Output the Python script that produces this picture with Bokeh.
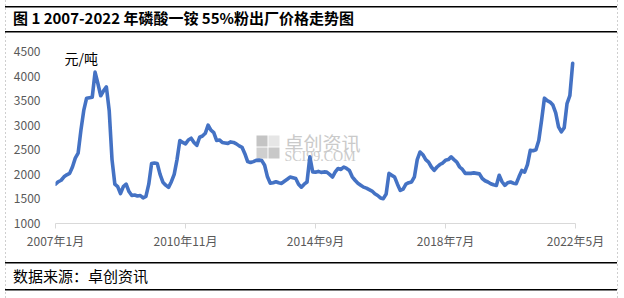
from bokeh.plotting import figure
from bokeh.models import Range1d, FixedTicker, Label, BoxAnnotation, Div
from bokeh.layouts import column
from bokeh.embed import file_html
from bokeh.resources import INLINE

# Monthly ex-works price of 55% MAP powder, 2007-01 .. 2022-04 (yuan/ton)
price = [
    1800, 1850, 1880, 1950, 1990, 2020, 2150, 2330, 2430, 2900,
    3300, 3550, 3560, 3570, 4080, 3850, 3600, 3700, 3780, 3300,
    2300, 1800, 1750, 1610, 1750, 1800, 1650, 1570, 1580, 1560,
    1570, 1520, 1550, 1800, 2220, 2230, 2220, 2000, 1840, 1780,
    1735, 1850, 2000, 2300, 2690, 2650, 2620, 2700, 2735, 2650,
    2590, 2755, 2780, 2835, 3000, 2900, 2850, 2690, 2700, 2650,
    2640, 2630, 2660, 2650, 2620, 2580, 2550, 2420, 2260, 2240,
    2260, 2285, 2290, 2280, 2185, 1950, 1820, 1830, 1850, 1830,
    1815, 1860, 1900, 1945, 1930, 1915, 1800, 1740, 1800, 1845,
    2355, 2050, 2045, 2060, 2040, 2050, 2045, 2000, 1945, 2050,
    2120, 2100, 2150, 2120, 2080, 1950, 1880, 1820, 1780, 1740,
    1720, 1690, 1660, 1605, 1570, 1520, 1505, 1600, 2020, 1980,
    1945, 1800, 1673, 1700, 1800, 1830, 1845, 1950, 2300, 2455,
    2400, 2300, 2250, 2150, 2080, 2150, 2200, 2230, 2285, 2300,
    2355, 2300, 2250, 2150, 2100, 2020, 2020, 2020, 2030, 2020,
    2010, 1915, 1870, 1845, 1810, 1790, 1775, 1980, 1850, 1775,
    1830, 1845, 1820, 1810, 1950, 2080, 2045, 2200, 2490, 2480,
    2500, 2690, 3100, 3550, 3500, 3470, 3410, 3250, 2965, 2865,
    2950, 3440, 3600, 4260,
]
month_index = list(range(len(price)))          # 0 = 2007年1月
tick_months = [0, 46, 92, 138, 184]
tick_labels = ["2007年1月", "2010年11月", "2014年9月", "2018年7月", "2022年5月"]
y_ticks = [1000, 1500, 2000, 2500, 3000, 3500, 4000, 4500]

title_text = "图 1 2007-2022 年磷酸一铵 55%粉出厂价格走势图"
unit_text = "元/吨"
source_text = "数据来源：卓创资讯"

FONT = "Noto Sans CJK SC"
W, H = 624, 298
TOP_H, BOT_H = 32, 36
PH = H - TOP_H - BOT_H                     # figure height (canvas y 32..262)
FL, FR, FT, FB = 55, 575, 51, 223          # frame edges on the page

p = figure(width=W, height=PH, output_backend="svg", toolbar_location=None,
           x_range=Range1d(0, 184), y_range=Range1d(1000, 4500),
           min_border_left=FL, min_border_right=W - FR,
           min_border_top=FT - TOP_H, min_border_bottom=TOP_H + PH - FB,
           margin=0)
p.outline_line_color = None
p.background_fill_color = None
p.border_fill_color = None
p.xgrid.grid_line_color = None
p.ygrid.grid_line_color = None

xa = p.xaxis[0]
xa.ticker = FixedTicker(ticks=tick_months)
xa.major_label_overrides = {t: l for t, l in zip(tick_months, tick_labels)}
xa.axis_line_color = "#d9d9d9"
xa.major_tick_line_color = "#d9d9d9"
xa.major_tick_in = 0
xa.major_tick_out = 5
xa.minor_tick_line_color = None
xa.major_label_text_font = FONT
xa.major_label_text_font_size = "12px"
xa.major_label_text_color = "#595959"
xa.major_label_standoff = 3

ya = p.yaxis[0]
ya.ticker = FixedTicker(ticks=y_ticks)
ya.axis_line_color = None
ya.major_tick_line_color = None
ya.minor_tick_line_color = None
ya.major_label_text_font = FONT
ya.major_label_text_font_size = "12px"
ya.major_label_text_color = "#595959"
ya.major_label_standoff = 9

p.line(month_index, price, line_color="#4472C4", line_width=3.6,
       line_join="round", line_cap="round")


def sx(cx):
    return cx - FL


def sy(cy):
    return FB - cy


def box(l, r, t, b, **kw):
    p.add_layout(BoxAnnotation(left=sx(l), right=sx(r), top=sy(t), bottom=sy(b),
                               left_units="screen", right_units="screen",
                               top_units="screen", bottom_units="screen",
                               level="underlay", **kw))


# watermark (logo + text)
box(256, 267, 135, 146, fill_color="#c4c4c4", fill_alpha=1, line_color=None)
box(268, 279, 135, 146, fill_color="#e6e6e6", fill_alpha=1, line_color=None)
box(256, 267, 147, 158, fill_color="#cfcfcf", fill_alpha=1, line_color=None)
box(268, 279, 147, 158, fill_color="#c8c8c8", fill_alpha=1, line_color=None)
p.add_layout(Label(x=sx(284), y=sy(142), x_units="screen", y_units="screen",
                   text="卓创资讯", text_font=FONT, text_font_size="19px",
                   text_color="#cacaca", text_baseline="middle", level="underlay"))
p.add_layout(Label(x=sx(284), y=sy(156), x_units="screen", y_units="screen",
                   text="SCI99.COM", text_font="Liberation Serif", text_font_size="14px",
                   text_color="#cacaca", text_baseline="middle", level="underlay"))

p.add_layout(Label(x=sx(64), y=sy(57), x_units="screen", y_units="screen",
                   text=unit_text, text_font=FONT, text_font_size="14px",
                   text_color="black", text_baseline="middle"))

title_div = Div(width=W, height=TOP_H, margin=0,
                text=('<div style="padding:7px 0 0 13px;font-family:\'Noto Sans CJK SC\';'
                      'font-weight:bold;font-size:15px;line-height:22px;white-space:nowrap;'
                      'color:#000">' + title_text + '</div>'))
source_div = Div(width=W, height=BOT_H, margin=0,
                 text=('<div style="padding:3px 0 0 13px;font-family:\'Noto Sans CJK SC\';'
                       'font-size:15px;line-height:22px;white-space:nowrap;color:#000">'
                       + source_text + '</div>'))

dash = "repeating-linear-gradient(to bottom,#cfcfcf 0px,#cfcfcf 2px,transparent 2px,transparent 4px)"
rule = "linear-gradient(#000,#000)"
bg = ", ".join([
    f"{rule} 5px 6px / 612px 1.5px no-repeat",
    f"{rule} 5px 31px / 612px 1.5px no-repeat",
    f"{rule} 5px 262px / 612px 1.5px no-repeat",
    f"{rule} 5px 289px / 612px 1.5px no-repeat",
    f"{dash} 5px 0px / 1px {H}px no-repeat",
    f"{dash} 617px 0px / 1px {H}px no-repeat",
    "#ffffff",
])

layout = column(title_div, p, source_div, width=W, height=H, spacing=0, margin=0,
                styles={"background": bg})

open("out.html", "w").write(file_html(layout, INLINE))
